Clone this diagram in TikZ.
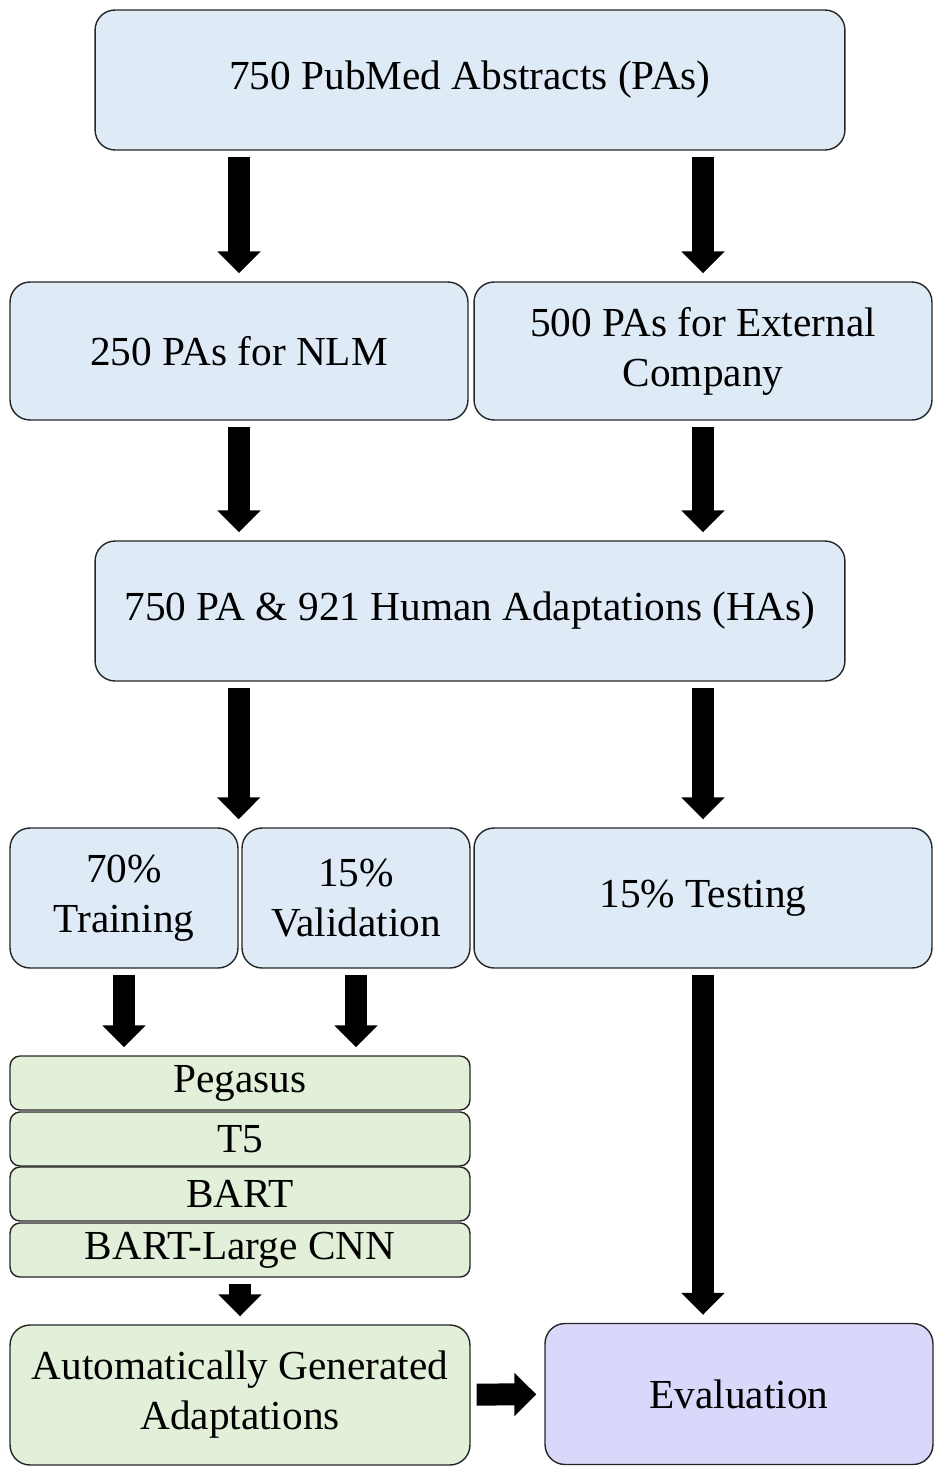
\documentclass[tikz,border=0pt]{standalone}
\usepackage{fontspec}
\setmainfont{Liberation Serif}
\usetikzlibrary{arrows.meta}
\definecolor{boxblue}{RGB}{222,235,247}
\definecolor{boxgreen}{RGB}{226,240,217}
\definecolor{boxlilac}{RGB}{218,216,250}
\begin{document}
\begin{tikzpicture}[x=0.02cm, y=-0.02cm,
  box/.style={draw=black!85, line width=0.8pt, rounded corners=0.4cm, align=center, inner sep=0pt, font=\fontsize{23.5}{28.5}\selectfont},
  bluebox/.style={box, fill=boxblue},
  greenbox/.style={box, fill=boxgreen},
  modelbox/.style={box, fill=boxgreen, rounded corners=0.2cm, minimum width=9.2cm, minimum height=1.08cm},
  evalbox/.style={box, fill=boxlilac},
  blk/.style={line width=0.44cm, -{Triangle[width=0.84cm,length=0.44cm]}, shorten <=0.12cm, shorten >=0.16cm}
]
\useasboundingbox (0,0) rectangle (936,1468);
\node[bluebox, minimum width=15cm, minimum height=2.8cm] (pubmed) at (470,80){750 PubMed Abstracts (PAs)};
\node[bluebox, minimum width=9.16cm, minimum height=2.76cm] (nlm) at (239,351){250 PAs for NLM};
\node[bluebox, minimum width=9.16cm, minimum height=2.76cm] (extco) at (703,351){500 PAs for External\\Company};
\draw[blk](pubmed.south -| nlm) -- (nlm.north);
\draw[blk](pubmed.south -| extco) -- (extco.north);
\node[bluebox, minimum width=15cm, minimum height=2.8cm] (human) at (470,611){750 PA \& 921 Human Adaptations (HAs)};
\draw[blk](nlm) -- (human.north -| nlm);
\draw[blk](extco) -- (human.north -| extco);
\node[bluebox, minimum width=4.56cm, minimum height=2.8cm] (train) at (124,898){70\%\\Training};
\node[bluebox, minimum width=4.56cm, minimum height=2.8cm] (valid) at (356,898){15\%\\Validation};
\node[bluebox, minimum width=9.16cm, minimum height=2.8cm] (test) at (703,898){15\% Testing};
\draw[blk](human.south -| train.north east) -- (train.north east);
\draw[blk](human.south -| test) -- (test.north);
\node[modelbox] (pegasus) at (240,1083){Pegasus};
\node[modelbox] (tfive) at (240,1139){T5};
\node[modelbox] (bart) at (240,1194){BART};
\node[modelbox] (bartcnn) at (240,1250){BART-Large CNN};
\draw[blk](train) -- (pegasus.north -| train);
\draw[blk](valid) -- (pegasus.north -| valid);
\node[greenbox, minimum width=9.2cm, minimum height=2.8cm] (autogen) at (240,1395){Automatically Generated\\Adaptations};
\node[evalbox, minimum width=7.76cm, minimum height=2.82cm] (eval) at (739,1394){Evaluation};
\draw[blk](bartcnn) -- (autogen);
\draw[blk](test) -- (eval.north -| test);
\draw[blk](autogen) -- (eval);
\end{tikzpicture}
\end{document}
